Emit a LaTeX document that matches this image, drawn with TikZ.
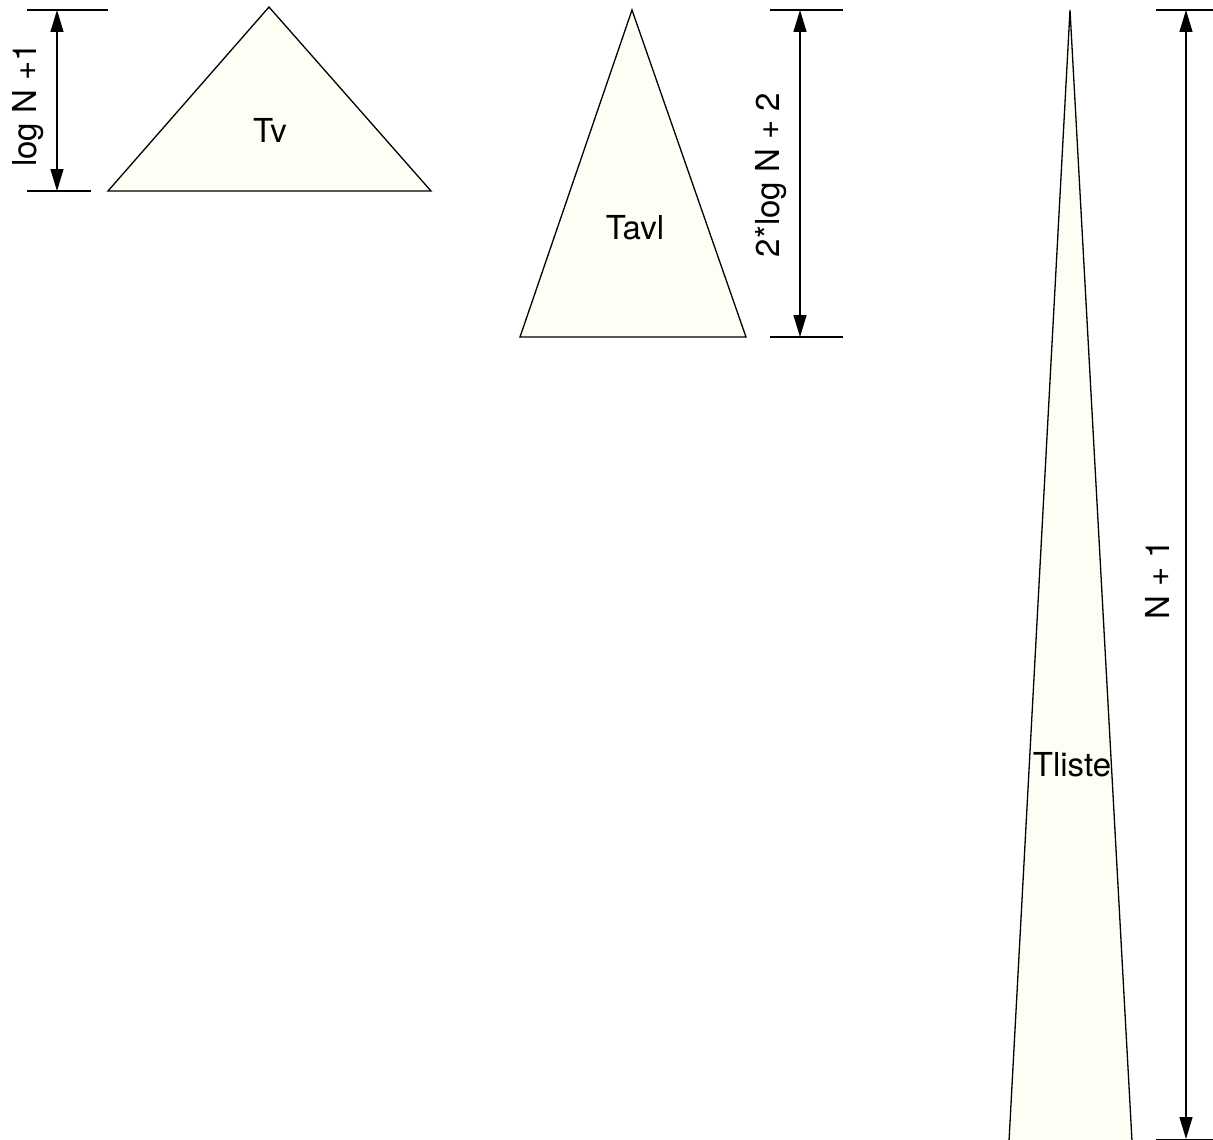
\documentclass[tikz,border=0pt]{standalone}
\usepackage{fontspec}
\setmainfont{TeX Gyre Heros}
\usetikzlibrary{arrows.meta}
\definecolor{trifill}{RGB}{254,254,244}
\tikzset{
  tri/.style={draw=black, fill=trifill, line width=1.3pt, line join=miter},
  tick/.style={draw=black, line width=1.3pt},
  dimarrow/.style={draw=black, line width=1.3pt, {Triangle[length=22pt,width=13pt]}-{Triangle[length=22pt,width=13pt]}},
  lbl/.style={font=\fontsize{33}{36}\selectfont, inner sep=1pt},
}
\begin{document}
\begin{tikzpicture}[x=1pt,y=-1pt]
\useasboundingbox (0,0) rectangle (1213,1140);
% Tv
\coordinate (tvA) at (269,7);
\coordinate (tvL) at (108,191);
\coordinate (tvR) at (431,191);
\path[tri] (tvA) -- (tvL) -- (tvR) -- cycle;
\node[lbl] (tv) at (270,130) {Tv};
\coordinate (d1t0) at (27,10); \coordinate (d1t1) at (108,10);
\coordinate (d1b0) at (27,191); \coordinate (d1b1) at (91,191);
\draw[tick] (d1t0) -- (d1t1);
\draw[tick] (d1b0) -- (d1b1);
\coordinate (d1a) at (57,10); \coordinate (d1b) at (57,191);
\draw[dimarrow] (d1a) -- (d1b);
\node[lbl, rotate=90] (l1) at (28,105) {log N +1};
% Tavl
\coordinate (taA) at (632,10);
\coordinate (taL) at (520,337);
\coordinate (taR) at (746,337);
\path[tri] (taA) -- (taL) -- (taR) -- cycle;
\node[lbl] (tavl) at (635,228) {Tavl};
\coordinate (d2t0) at (770,10); \coordinate (d2t1) at (843,10);
\coordinate (d2b0) at (770,337); \coordinate (d2b1) at (843,337);
\draw[tick] (d2t0) -- (d2t1);
\draw[tick] (d2b0) -- (d2b1);
\coordinate (d2a) at (800,10); \coordinate (d2b) at (800,337);
\draw[dimarrow] (d2a) -- (d2b);
\node[lbl, rotate=90] (l2) at (771,175) {2*log N + 2};
% Tliste
\coordinate (tlA) at (1070,10);
\coordinate (tlL) at (1009,1141);
\coordinate (tlR) at (1132,1141);
\path[tri] (tlA) -- (tlL) -- (tlR) -- cycle;
\node[lbl] (tliste) at (1072,765) {Tliste};
\coordinate (d3t0) at (1156,10); \coordinate (d3t1) at (1213,10);
\draw[tick] (d3t0) -- (d3t1);
\coordinate (d3b0) at (1156,1139.5); \coordinate (d3b1) at (1213,1139.5);
\draw[tick] (d3b0) -- (d3b1);
\coordinate (d3a) at (1186,10); \coordinate (d3b) at (1186,1139);
\draw[dimarrow] (d3a) -- (d3b);
\node[lbl, rotate=90] (l3) at (1157,580) {N + 1};
\end{tikzpicture}
\end{document}
